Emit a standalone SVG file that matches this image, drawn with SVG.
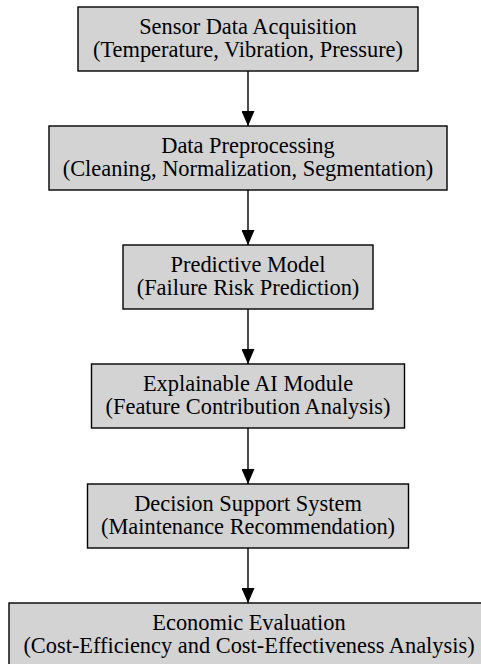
<svg xmlns="http://www.w3.org/2000/svg" width="481" height="664" viewBox="0 0 481 664">
<defs>
<style>
.box{fill:#d3d3d3;stroke:#000;stroke-width:1.4}
.t{font-family:"Liberation Serif","Times New Roman",serif;font-size:22.4px;fill:#000;text-anchor:middle}
.edge{stroke:#000;stroke-width:1.4;fill:none}
</style>
<marker id="ah" markerWidth="15" markerHeight="13" refX="15" refY="6.5" orient="auto" markerUnits="userSpaceOnUse" viewBox="0 0 15 13">
<path d="M0,0 L15,6.5 L0,13 Z" fill="#000"/>
</marker>
</defs>
<rect width="481" height="664" fill="#fff"/>
<g id="edges">
<line class="edge" x1="248" y1="71" x2="248" y2="126" marker-end="url(#ah)"/>
<line class="edge" x1="248" y1="190" x2="248" y2="245" marker-end="url(#ah)"/>
<line class="edge" x1="248" y1="309" x2="248" y2="364" marker-end="url(#ah)"/>
<line class="edge" x1="248" y1="428" x2="248" y2="484" marker-end="url(#ah)"/>
<line class="edge" x1="248" y1="548" x2="248" y2="603" marker-end="url(#ah)"/>
</g>
<g id="n1"><rect class="box" x="78" y="7" width="340" height="64"/>
<text class="t" x="248" y="33.5">Sensor Data Acquisition</text><text class="t" x="248" y="57">(Temperature, Vibration, Pressure)</text></g>
<g id="n2"><rect class="box" x="49" y="126" width="398" height="64"/>
<text class="t" x="248" y="152.5">Data Preprocessing</text><text class="t" x="248" y="176">(Cleaning, Normalization, Segmentation)</text></g>
<g id="n3"><rect class="box" x="123" y="245" width="250" height="64"/>
<text class="t" x="248" y="271.5">Predictive Model</text><text class="t" x="248" y="295">(Failure Risk Prediction)</text></g>
<g id="n4"><rect class="box" x="91.5" y="364" width="313" height="64"/>
<text class="t" x="248" y="390.5">Explainable AI Module</text><text class="t" x="248" y="414">(Feature Contribution Analysis)</text></g>
<g id="n5"><rect class="box" x="87.5" y="484" width="321" height="64"/>
<text class="t" x="248" y="510.5">Decision Support System</text><text class="t" x="248" y="534">(Maintenance Recommendation)</text></g>
<g id="n6"><rect class="box" x="9" y="603" width="480" height="64"/>
<text class="t" x="249" y="629.5">Economic Evaluation</text><text class="t" x="249" y="653">(Cost-Efficiency and Cost-Effectiveness Analysis)</text></g>
</svg>
